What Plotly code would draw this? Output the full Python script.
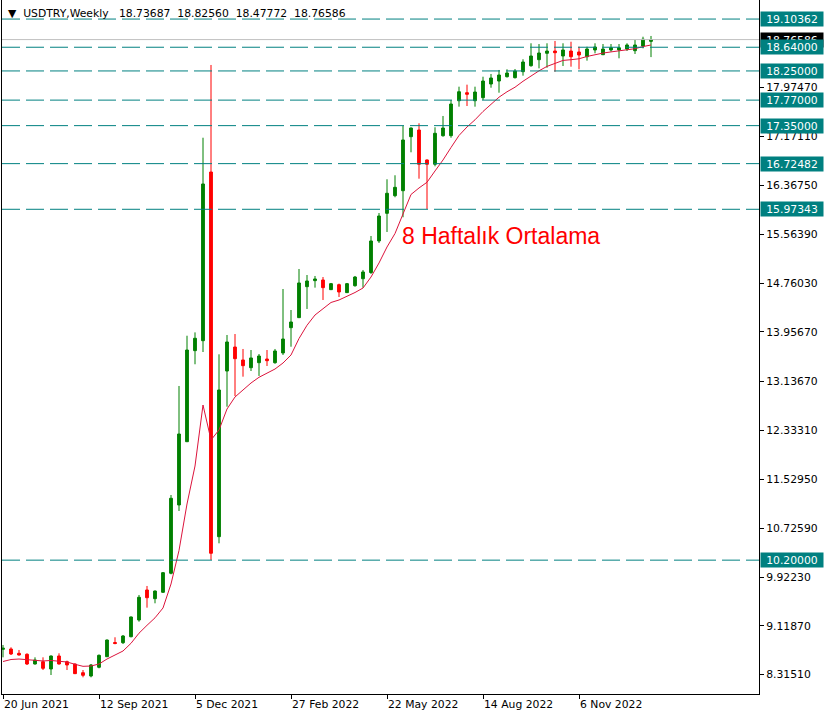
import plotly.graph_objects as go
import pandas as pd

# Weekly bars (MT4 weeks start on Sunday)
dates = pd.date_range("2021-06-20", periods=82, freq="7D")

open_ = [8.733, 8.738, 8.667, 8.651, 8.491, 8.529, 8.409, 8.623, 8.529, 8.491,
         8.348, 8.294, 8.437, 8.611, 8.845, 8.842, 8.940, 9.215, 9.709, 9.566,
         9.671, 9.984, 11.108, 12.149, 13.647, 13.811, 16.587, 10.586, 13.312, 13.707,
         13.494, 13.367, 13.449, 13.510, 13.449, 13.609, 14.025, 14.190, 14.700, 14.799,
         14.810, 14.651, 14.733, 14.602, 14.716, 14.831, 14.933, 15.452, 15.907, 16.197,
         16.279, 17.168, 17.278, 16.785, 16.714, 17.184, 17.185, 17.760, 17.892, 17.760,
         17.810, 18.035, 18.084, 18.155, 18.139, 18.238, 18.336, 18.435, 18.540, 18.578,
         18.496, 18.578, 18.562, 18.484, 18.595, 18.517, 18.595, 18.595, 18.611, 18.583,
         18.660, 18.73687]
high = [8.804, 8.766, 8.722, 8.667, 8.601, 8.601, 8.631, 8.667, 8.546, 8.499,
        8.392, 8.491, 8.648, 8.894, 8.931, 8.968, 9.273, 9.627, 9.775, 9.701,
        10.005, 11.272, 13.066, 13.893, 13.948, 17.151, 18.348, 13.587, 13.905, 13.921,
        13.675, 13.658, 13.592, 13.658, 13.675, 14.662, 14.316, 14.991, 14.892, 14.876,
        14.859, 14.761, 14.750, 14.761, 14.876, 14.975, 15.534, 15.912, 16.467, 16.533,
        17.344, 17.319, 17.388, 16.794, 17.323, 17.509, 17.772, 17.991, 18.024, 17.991,
        18.155, 18.200, 18.266, 18.277, 18.282, 18.442, 18.705, 18.693, 18.705, 18.743,
        18.705, 18.731, 18.649, 18.649, 18.705, 18.693, 18.693, 18.693, 18.705, 18.759,
        18.813, 18.82560]
low = [8.601, 8.639, 8.631, 8.475, 8.483, 8.392, 8.310, 8.483, 8.392, 8.327,
       8.272, 8.272, 8.420, 8.606, 8.815, 8.820, 8.931, 9.187, 9.418, 9.490,
       9.662, 9.967, 11.009, 12.144, 13.423, 13.625, 10.203, 10.477, 12.725, 12.901,
       13.219, 13.312, 13.231, 13.395, 13.432, 13.576, 13.712, 14.185, 14.333, 14.684,
       14.481, 14.646, 14.530, 14.597, 14.700, 14.684, 14.909, 15.419, 15.600, 16.171,
       15.842, 16.911, 16.477, 15.978, 16.681, 17.168, 17.151, 17.662, 17.673, 17.662,
       17.772, 17.974, 17.892, 18.142, 18.126, 18.172, 18.320, 18.293, 18.303, 18.237,
       18.331, 18.320, 18.277, 18.419, 18.540, 18.512, 18.567, 18.458, 18.578, 18.529,
       18.622, 18.47772]
close = [8.750, 8.656, 8.639, 8.491, 8.557, 8.420, 8.623, 8.491, 8.475, 8.332,
         8.305, 8.475, 8.634, 8.886, 8.829, 8.952, 9.265, 9.589, 9.582, 9.692,
         9.994, 11.218, 12.276, 13.658, 13.851, 16.390, 10.313, 13.000, 13.790, 13.515,
         13.400, 13.527, 13.559, 13.482, 13.642, 13.839, 14.119, 14.761, 14.794, 14.827,
         14.684, 14.750, 14.613, 14.750, 14.859, 14.942, 15.452, 15.863, 16.237, 16.335,
         17.114, 17.311, 16.714, 16.714, 17.224, 17.311, 17.706, 17.908, 17.866, 17.903,
         18.084, 18.134, 18.183, 18.216, 18.249, 18.397, 18.496, 18.545, 18.578, 18.550,
         18.595, 18.484, 18.512, 18.611, 18.644, 18.611, 18.632, 18.632, 18.677, 18.677,
         18.771, 18.76586]
# 8-week moving average
ma8 = [8.532, 8.565, 8.573, 8.560, 8.557, 8.541, 8.549, 8.541, 8.524, 8.486,
       8.453, 8.458, 8.491, 8.573, 8.634, 8.705, 8.832, 8.998, 9.128, 9.251,
       9.413, 9.808, 10.359, 11.124, 11.749, 12.753, 12.177, 12.342, 12.687, 12.885,
       13.000, 13.115, 13.209, 13.275, 13.345, 13.444, 13.576, 13.847, 14.065, 14.234,
       14.341, 14.440, 14.481, 14.538, 14.604, 14.678, 14.859, 15.090, 15.353, 15.575,
       15.904, 16.217, 16.324, 16.418, 16.604, 16.785, 16.990, 17.188, 17.328, 17.446,
       17.583, 17.706, 17.818, 17.907, 17.982, 18.080, 18.172, 18.252, 18.325, 18.376,
       18.423, 18.435, 18.450, 18.488, 18.522, 18.544, 18.563, 18.578, 18.599, 18.616,
       18.651, 18.677]

level_values = [19.10362, 18.64000, 18.25000, 17.77000, 17.35000, 16.72482, 15.97343, 10.20000]
last_price = 18.76586
y_ticks = [8.3151, 9.1187, 9.9223, 10.7259, 11.5295, 12.3331, 13.1367, 13.9567,
           14.7603, 15.5639, 16.3675, 17.1711, 17.9747]
x_ticks = ["2021-06-20", "2021-09-12", "2021-12-05", "2022-02-27",
           "2022-05-22", "2022-08-14", "2022-11-06"]
header_values = ["18.73687", "18.82560", "18.47772", "18.76586"]
header = "▼\u00a0 USDTRY,Weekly\u00a0\u00a0 " + "\u00a0 ".join(header_values)
ma_label = "8 Haftalık Ortalama"

GREEN = "#008000"
RED = "#FF0000"
TEAL = "#008080"
FONT = "DejaVu Sans"
FS = 10.8

fig = go.Figure()
fig.add_trace(go.Candlestick(
    x=dates, open=open_, high=high, low=low, close=close,
    increasing=dict(line=dict(color=GREEN, width=1), fillcolor=GREEN),
    decreasing=dict(line=dict(color=RED, width=1), fillcolor=RED),
    whiskerwidth=0, showlegend=False, hoverinfo="skip",
))
fig.add_trace(go.Scatter(
    x=dates, y=ma8, mode="lines", line=dict(color="#DC143C", width=1),
    showlegend=False, hoverinfo="skip",
))

for v in level_values:
    fig.add_shape(type="line", xref="paper", x0=0, x1=1, yref="y", y0=v, y1=v,
                  line=dict(color=TEAL, width=1, dash="18px,6px"))
fig.add_shape(type="line", xref="paper", x0=0, x1=1, yref="y", y0=last_price, y1=last_price,
              line=dict(color="#C0C0C0", width=1))

annotations = []
annotations.append(dict(x=1, xref="paper", xanchor="left", xshift=1, y=last_price, yref="y",
                        yanchor="middle", text=f"{last_price:.5f}", showarrow=False,
                        bgcolor="#000000", font=dict(color="white", size=FS, family=FONT),
                        width=60, height=12, borderpad=1))
for v in level_values:
    annotations.append(dict(x=1, xref="paper", xanchor="left", xshift=1, y=v, yref="y",
                            yanchor="middle", text=f"{v:.5f}", showarrow=False,
                            bgcolor=TEAL, font=dict(color="white", size=FS, family=FONT),
                            width=60, height=12, borderpad=1))
annotations.append(dict(x=0, xref="paper", xanchor="left", xshift=4, y=1, yref="paper",
                        yanchor="top", yshift=-5, text=header, showarrow=False,
                        font=dict(color="black", size=FS, family=FONT)))
annotations.append(dict(x=0.659, xref="paper", xanchor="center", y=0.66, yref="paper",
                        yanchor="middle", text=ma_label, showarrow=False,
                        font=dict(color=RED, size=23, family="Liberation Sans")))

fig.update_layout(
    width=830, height=718,
    margin=dict(l=2, r=71, t=0, b=24),
    paper_bgcolor="white", plot_bgcolor="white",
    boxgap=0.5,
    annotations=annotations,
    font=dict(family=FONT, size=FS, color="black"),
    xaxis=dict(
        type="date", range=["2021-06-19 03:00", "2023-04-12 12:00"],
        rangeslider=dict(visible=False),
        tickvals=x_ticks, tickformat="%-d %b %Y",
        ticks="outside", ticklen=4, tickcolor="black",
        ticklabelposition="outside right",
        showline=True, linecolor="black", linewidth=1,
        showgrid=False, zeroline=False,
        tickfont=dict(family=FONT, size=FS, color="black"),
    ),
    yaxis=dict(
        side="right", range=[7.9975, 19.4173],
        tickvals=y_ticks, tickformat=".5f",
        ticks="outside", ticklen=4, tickcolor="black",
        showline=True, mirror=True, linecolor="black", linewidth=1,
        showgrid=False, zeroline=False,
        tickfont=dict(family=FONT, size=FS, color="black"),
    ),
)

fig.write_html("out.html", config={"displayModeBar": False},
               post_script="document.body.style.margin='0';")
